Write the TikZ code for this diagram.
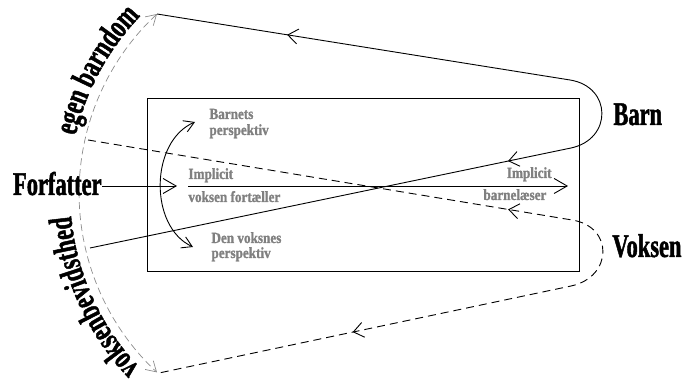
\documentclass[tikz,border=0pt]{standalone}
\usepackage{fontspec}
\usetikzlibrary{arrows.meta,decorations.markings,decorations.text}
\newfontfamily\condserif[FakeStretch=0.68,FakeBold=1.4]{Liberation Serif}
\newfontfamily\grayserif[FakeStretch=0.85,FakeBold=1.3]{Liberation Serif}
\newcommand\bigtxt{\condserif\bfseries\fontsize{33}{36}\selectfont}
\newcommand\smalltxt{\grayserif\bfseries\fontsize{15.5}{17}\selectfont}
\definecolor{txtgray}{gray}{0.5}
\definecolor{arcgray}{gray}{0.55}
\begin{document}
\begin{tikzpicture}[x=1pt,y=1pt,line width=0.9pt,
  bigtip/.style={-{Straight Barb[length=13pt,width=15pt]}},
  smalltips/.style={{Straight Barb[length=10pt,width=12pt]}-{Straight Barb[length=10pt,width=12pt]}},
  midarrow/.style={postaction={decorate},decoration={markings,mark=at position #1 with {\arrow{Straight Barb[length=10pt,width=15pt]}}}},
  bigword/.style={inner sep=0pt,font=\bigtxt},
  gword/.style={inner sep=0pt,font=\smalltxt,text=txtgray},
  mydashed/.style={dash pattern=on 8pt off 5pt},
  arcdashed/.style={dash pattern=on 7pt off 4pt}]
\useasboundingbox (0,0) rectangle (682,379);
\coordinate (ctr) at (324,186);
\coordinate (A) at (157,365);
\coordinate (B) at (570,299);
\coordinate (C) at (571,231);
\coordinate (D) at (90,131);
\coordinate (E) at (88,239);
\coordinate (F) at (572,159);
\coordinate (G) at (571,93);
\coordinate (H) at (159,6);
% frame
\node[draw, minimum width=432pt, minimum height=173pt, anchor=south west, inner sep=0pt] (box) at (147,107) {};
% gray arc
\draw[arcgray, line width=0.7pt, arcdashed, smalltips] (A) arc[start angle=133, end angle=227, radius=245];
% solid path (Barn)
\draw (D) -- (C) to[out=12, in=-9, looseness=1.6] (B) -- (A);
\path[midarrow=0.685] (B) -- (A);
\path[midarrow=0.131] (C) -- (D);
% dashed path (Voksen)
\draw[mydashed] (E) -- (F) to[out=-9, in=12, looseness=1.65] (G) -- (H);
\path[midarrow=0.132] (F) -- (E);
\path[midarrow=0.53] (G) -- (H);
% labels
\node[bigword, anchor=base east] (forf) at (102,184) {Forfatter};
\node[bigword, anchor=base west] (barn) at (613,254) {Barn};
\node[bigword, anchor=base west] (voksen) at (612,122) {Voksen};
% arrows in the middle
\coordinate (ftip) at (177,193);
\draw[bigtip] (forf.east |- ftip) -- (ftip);
\coordinate (l1) at (188,193);
\coordinate (l2) at (568,193);
\draw[bigtip] (l1) -- (l2);
\coordinate (cb) at (193,132);
\coordinate (ct) at (195,257);
\draw[smalltips] (cb) to[bend left=66] (ct);
% gray texts
\node[gword, anchor=base west] (bp1) at (209,260) {Barnets};
\node[gword, anchor=base west] (bp2) at (209,244) {perspektiv};
\node[gword, anchor=base west] (dv1) at (211,136) {Den voksnes};
\node[gword, anchor=base west] (dv2) at (211,121) {perspektiv};
\node[gword, anchor=base west] (im1) at (188,200) {Implicit};
\node[gword, anchor=base west] (vf) at (188,177) {voksen fortæller};
\node[gword, anchor=base east] (im2) at (552,201) {Implicit};
\node[gword, anchor=base west] (bl) at (483,179) {barnelæser};
% curved texts
\path[decorate, decoration={text along path, text={|\bigtxt|egen barndom}, text align=left}]
  ([shift={(167:255)}]ctr) arc[start angle=167, end angle=115, radius=255];
\path[decorate, decoration={text along path, text={|\bigtxt|voksenbevidsthed}, text align=left}]
  ([shift={(-136.5:254)}]ctr) arc[start angle=-136.5, end angle=-195, radius=254];
\end{tikzpicture}
\end{document}
